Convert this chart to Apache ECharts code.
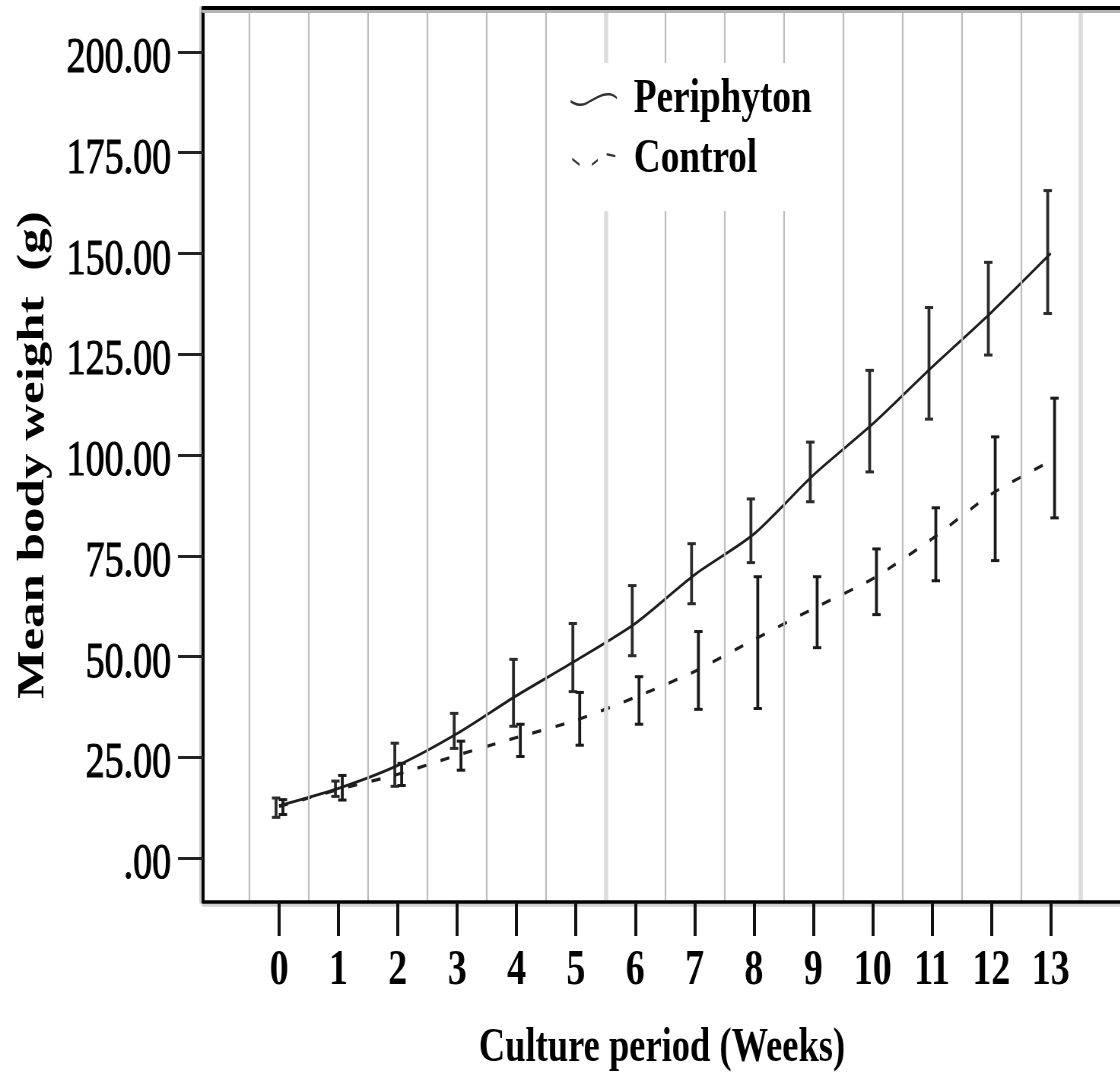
<!DOCTYPE html>
<html>
<head>
<meta charset="utf-8">
<script src="https://cdn.jsdelivr.net/npm/echarts@6/dist/echarts.min.js"></script>
<style>
html,body{margin:0;padding:0;background:#fff;overflow:hidden;width:1120px;height:1078px;}
#chart{position:absolute;left:0;top:0;height:1078px;transform-origin:0 0;}
</style>
</head>
<body>
<div id="chart"></div>
<script>
// ---- data ----
const weeks = [0, 1, 2, 3, 4, 5, 6, 7, 8, 9, 10, 11, 12, 13];
const periMean = [13.0, 17.3, 23.0, 30.9, 40.3, 49.0, 58.2, 70.3, 80.4, 95.0, 107.7, 121.8, 135.4, 150.0];
const periLow  = [10.1, 15.3, 17.8, 27.2, 32.7, 41.3, 50.2, 63.1, 73.3, 88.4, 95.8, 108.9, 124.8, 135.1];
const periHigh = [14.9, 19.1, 28.5, 35.9, 49.3, 58.2, 67.6, 78.0, 89.1, 103.2, 121.0, 136.6, 147.8, 165.6];
const ctrlMean = [12.8, 17.0, 20.8, 25.5, 29.9, 34.2, 39.9, 46.3, 54.2, 61.9, 69.3, 79.2, 90.3, 98.5];
const ctrlLow  = [10.8, 14.4, 18.0, 21.8, 25.2, 28.0, 33.2, 36.9, 37.1, 52.2, 60.4, 68.8, 73.8, 84.4];
const ctrlHigh = [14.5, 20.5, 23.5, 29.0, 33.2, 41.1, 45.0, 56.2, 69.8, 69.8, 76.7, 86.9, 104.5, 114.1];
const yTicks = [0, 25, 50, 75, 100, 125, 150, 175, 200];
const yTickLabels = ['.00', '25.00', '50.00', '75.00', '100.00', '125.00', '150.00', '175.00', '200.00'];
const seriesNames = ['Periphyton', 'Control'];
const xTitle = 'Culture period (Weeks)';
const yTitle = 'Mean body weight  (g)';

// ---- layout (the reference is horizontally condensed) ----
const S = 0.76;
const W = 1120 / S;
const el = document.getElementById('chart');
el.style.width = W + 'px';
el.style.transform = 'scaleX(' + S + ')';

const FONT = "'Liberation Serif', 'Times New Roman', serif";
const xMin = -1.28, xMax = 14.18;
const yMin = -10.9, yMax = 210.9;

const gridX = [-0.5].concat(weeks.map(w => w + 0.5));

function errorBars(mean, low, high, offset, color) {
  return {
    type: 'custom',
    name: 'eb',
    silent: true,
    clip: false,
    z: 3,
    encode: { x: 0, y: 1 },
    data: weeks.map((w, i) => [w, mean[i], low[i], high[i]]),
    renderItem: function (params, api) {
      const x = api.value(0);
      const top = api.coord([x, api.value(3)]);
      const bot = api.coord([x, api.value(2)]);
      const cx = top[0] + offset;
      const hw = 5.5;
      return {
        type: 'group',
        children: [
          { type: 'line', shape: { x1: cx, y1: top[1], x2: cx, y2: bot[1] }, style: { stroke: color, lineWidth: 3.8 } },
          { type: 'line', shape: { x1: cx - hw, y1: top[1], x2: cx + hw, y2: top[1] }, style: { stroke: color, lineWidth: 3 } },
          { type: 'line', shape: { x1: cx - hw, y1: bot[1], x2: cx + hw, y2: bot[1] }, style: { stroke: color, lineWidth: 3 } }
        ]
      };
    }
  };
}

const chart = echarts.init(el, null, { renderer: 'canvas', width: W, height: 1078 });

const option = {
  animation: false,
  backgroundColor: '#fff',
  grid: { left: 203 / S, right: 0, top: 8, bottom: 1078 - 904, containLabel: false },
  legend: {
    orient: 'vertical',
    left: 552 / S,
    top: 63,
    z: 20,
    backgroundColor: '#fff',
    padding: [12, 37, 27, 24],
    itemGap: 11,
    itemWidth: 79,
    itemHeight: 13,
    selectedMode: false,
    textStyle: { fontFamily: FONT, fontWeight: 'bold', fontSize: 49, lineHeight: 49, color: '#000', padding: [0, 0, 0, 8] },
    data: [
      { name: seriesNames[0], icon: 'path://M0,8 C8,12 14,12 20,10 C30,6 40,1 48,1 C54,1 58,3 60,5 L60,7.5 C58,5.5 54,3.5 48,3.5 C40,3.5 30,8.5 20,12.5 C14,14.5 8,14.5 0,10.5 Z', itemStyle: { color: '#333', borderWidth: 0 } },
      { name: seriesNames[1], icon: 'path://M0,6 L10,12 L10,14.5 L0,8.5 Z M27,12 L35,7 L35,9.5 L27,14.5 Z M47,1 L59,3 L59,5.5 L47,3.5 Z', itemStyle: { color: '#333', borderWidth: 0 } }
    ]
  },
  xAxis: [
    {
      type: 'value', min: xMin, max: xMax, position: 'bottom', z: 10,
      name: xTitle, nameLocation: 'middle', nameGap: 123,
      nameTextStyle: { fontFamily: FONT, fontWeight: 'bold', fontSize: 48, lineHeight: 48, color: '#000' },
      axisLine: { onZero: false, lineStyle: { color: '#000', width: 3.5, shadowColor: '#cfcfcf', shadowOffsetY: 3, shadowBlur: 0 } },
      axisTick: { show: true, customValues: weeks, length: 34, lineStyle: { color: '#111', width: 4 } },
      axisLabel: { customValues: weeks, margin: 44, fontFamily: FONT, fontWeight: 'bold', fontSize: 50, lineHeight: 50, color: '#000' },
      splitLine: { show: false }
    },
    {
      type: 'value', min: xMin, max: xMax, position: 'top', z: 10,
      axisLine: { onZero: false, lineStyle: { color: '#000', width: 4, shadowColor: '#b5b5b5', shadowOffsetY: 3, shadowBlur: 0 } },
      axisTick: { show: false }, axisLabel: { show: false }, splitLine: { show: false }
    }
  ],
  yAxis: {
    type: 'value', min: yMin, max: yMax, z: 10,
    name: yTitle, nameLocation: 'middle', nameGap: 198,
    nameTextStyle: { fontFamily: FONT, fontWeight: 'bold', fontSize: 51, lineHeight: 51, color: '#000' },
    axisLine: { show: true, onZero: false, lineStyle: { color: '#000', width: 4, shadowColor: '#cfcfcf', shadowOffsetX: -3, shadowBlur: 0 } },
    axisTick: { show: true, customValues: yTicks, length: 33, lineStyle: { color: '#222', width: 3 } },
    axisLabel: {
      customValues: yTicks, margin: 42, fontFamily: FONT, fontWeight: 'normal', fontSize: 50, lineHeight: 14, color: '#000',
      verticalAlign: 'top',
      textBorderColor: '#000', textBorderWidth: 1.1,
      formatter: function (v) { return yTickLabels[yTicks.indexOf(v)]; }
    },
    splitLine: { show: false }
  },
  series: [
    {
      type: 'line', name: seriesNames[0], showSymbol: false, symbol: 'none', smooth: 0.25, z: 3,
      itemStyle: { color: '#333' },
      lineStyle: { color: '#1e1e1e', width: 2.8 },
      data: weeks.map((w, i) => [w, periMean[i]]),
      markLine: {
        silent: true, symbol: ['none', 'none'], label: { show: false }, animation: false,
        lineStyle: { color: '#bdbdbd', width: 2.2, type: 'solid' },
        data: gridX.map(v => ({ xAxis: v, lineStyle: (v === 5.5 || v === 13.5) ? { color: '#dcdcdc', width: 5.5, type: 'solid' } : { color: '#bdbdbd', width: 2.2, type: 'solid' } }))
      }
    },
    {
      type: 'line', name: seriesNames[1], showSymbol: false, symbol: 'none', smooth: 0.25, z: 3,
      itemStyle: { color: '#333' },
      lineStyle: { color: '#1e1e1e', width: 3.2, type: [12, 19] },
      data: weeks.map((w, i) => [w, ctrlMean[i]])
    },
    errorBars(periMean, periLow, periHigh, -4, '#2b2b2b'),
    errorBars(ctrlMean, ctrlLow, ctrlHigh, 5, '#1a1a1a')
  ]
};
chart.setOption(option);
</script>
</body>
</html>
